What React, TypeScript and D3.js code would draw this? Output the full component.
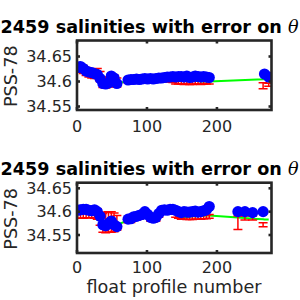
import React, { useEffect, useRef } from "react";
import * as d3 from "d3";

// profile numbers shared by both panels
const profiles = [
  1, 5, 9, 13, 17, 21, 25, 29, 33, 37, 41, 45, 49, 53, 57,
  73, 77, 81, 85, 89, 93, 97, 101, 105, 109, 113, 117, 121, 125, 129,
  133, 137, 141, 145, 149, 153, 157, 161, 165, 169, 173, 177, 181, 185, 189,
  230, 240, 251, 266, 268, 274,
];

// upper panel
const topFloat = [
  34.628, 34.63, 34.626, 34.621, 34.619, 34.618, 34.616, 34.614, 34.606, 34.596, 34.595, 34.597, 34.611, 34.607, 34.596,
  34.603, 34.604, 34.604, 34.605, 34.604, 34.605, 34.606, 34.605, 34.606, 34.605, 34.606, 34.607, 34.607, 34.608, 34.609,
  34.609, 34.61, 34.609, 34.61, 34.61, 34.609, 34.611, 34.608, 34.609, 34.611, 34.61, 34.609, 34.61, 34.609, 34.608,
  NaN, NaN, NaN, NaN, 34.615, 34.609,
];
const topMapped = [
  34.628, 34.627, 34.624, 34.62, 34.617, 34.615, 34.615, 34.616, 34.61, 34.598, 34.597, 34.599, 34.605, 34.603, 34.598,
  34.601, 34.602, 34.602, 34.603, 34.602, 34.603, 34.604, 34.603, 34.604, 34.603, 34.604, 34.604, 34.604, 34.604, 34.604,
  34.603, 34.602, 34.6, 34.6, 34.6, 34.599, 34.6, 34.599, 34.599, 34.6, 34.6, 34.599, 34.6, 34.6, 34.6,
  NaN, NaN, NaN, 34.5914, NaN, 34.5936,
];
const topErr = [
  0.008, 0.008, 0.008, 0.008, 0.008, 0.008, 0.009, 0.01, 0.01, 0.01, 0.01, 0.01, 0.01, 0.01, 0.009,
  0.004, 0.004, 0.004, 0.004, 0.004, 0.004, 0.004, 0.004, 0.004, 0.004, 0.004, 0.004, 0.004, 0.004, 0.004,
  0.004, 0.004, 0.005, 0.005, 0.005, 0.005, 0.005, 0.005, 0.005, 0.005, 0.005, 0.005, 0.005, 0.005, 0.005,
  NaN, NaN, NaN, 0.006, NaN, 0.003,
];
const topCal = [
  34.627, 34.628, 34.624, 34.62, 34.618, 34.616, 34.615, 34.613, 34.604, 34.597, 34.596, 34.598, 34.606, 34.603, 34.595,
  34.602, 34.603, 34.603, 34.603, 34.603, 34.603, 34.604, 34.603, 34.604, 34.603, 34.604, 34.604, 34.604, 34.604, 34.603,
  34.602, 34.601, 34.601, 34.601, 34.601, 34.601, 34.601, 34.601, 34.601, 34.601, 34.601, 34.6, 34.6, 34.6, 34.6,
  NaN, NaN, NaN, 34.6045, 34.605, NaN,
];

// lower panel
const botFloat = [
  34.603, 34.604, 34.605, 34.605, 34.603, 34.602, 34.604, 34.6, 34.59, 34.572, 34.57, 34.575, 34.58, 34.572, 34.568,
  34.584, 34.585, 34.589, 34.59, 34.592, 34.594, 34.6, 34.594, 34.588, 34.586, 34.588, 34.596, 34.603, 34.604, 34.603,
  34.605, 34.605, 34.603, 34.6, 34.598, 34.6, 34.599, 34.599, 34.6, 34.601, 34.599, 34.6, 34.602, 34.604, 34.611,
  34.6, 34.6, 34.598, 34.6, NaN, NaN,
];
const botMapped = [
  34.597, 34.597, 34.597, 34.598, 34.598, 34.598, 34.597, 34.595, 34.585, 34.576, 34.577, 34.578, 34.578, 34.577, 34.576,
  34.58, 34.581, 34.585, 34.586, 34.588, 34.59, 34.596, 34.59, 34.584, 34.582, 34.584, 34.592, 34.599, 34.6, 34.599,
  34.6, 34.599, 34.592, 34.59, 34.588, 34.588, 34.587, 34.587, 34.587, 34.588, 34.588, 34.588, 34.589, 34.589, 34.59,
  34.5764, 34.5865, 34.5865, 34.5722, NaN, NaN,
];
const botErr = [
  0.011, 0.011, 0.011, 0.011, 0.011, 0.011, 0.011, 0.011, 0.014, 0.02, 0.022, 0.022, 0.022, 0.02, 0.016,
  0.004, 0.004, 0.004, 0.004, 0.004, 0.004, 0.004, 0.004, 0.004, 0.004, 0.004, 0.004, 0.004, 0.004, 0.004,
  0.004, 0.004, 0.004, 0.004, 0.004, 0.004, 0.004, 0.004, 0.004, 0.004, 0.004, 0.004, 0.004, 0.004, 0.004,
  0.0145, 0.0043, 0.0043, 0.0043, NaN, NaN,
];
const botCal = [
  34.601, 34.602, 34.603, 34.603, 34.601, 34.6, 34.602, 34.598, 34.588, 34.574, 34.572, 34.576, 34.578, 34.574, 34.571,
  34.582, 34.583, 34.587, 34.588, 34.59, 34.592, 34.597, 34.592, 34.586, 34.584, 34.586, 34.594, 34.6, 34.601, 34.6,
  34.601, 34.6, 34.595, 34.588, 34.586, 34.587, 34.588, 34.589, 34.59, 34.59, 34.59, 34.591, 34.591, 34.592, 34.592,
  34.5875, 34.5865, 34.585, 34.5835, 34.583, 34.583,
];

const xTicks = [0, 100, 200];
const yTicks = [34.55, 34.6, 34.65];
const titleText = "6902459 salinities with error on ";
const yLabel = "PSS-78";
const xLabel = "float profile number";

const panels = [
  { id: "p1", top: 40.5, bottom: 110, yDomain: [34.543, 34.682], titleY: 33, tickY: 131.5, float: topFloat, mapped: topMapped, err: topErr, cal: topCal },
  { id: "p2", top: 182.7, bottom: 253, yDomain: [34.5115, 34.662], titleY: 175, tickY: 273, float: botFloat, mapped: botMapped, err: botErr, cal: botCal },
];

const axisColor = "#262626";
const font = "'DejaVu Sans', sans-serif";

function App() {
  const ref = useRef<SVGSVGElement>(null);

  useEffect(() => {
    const svg = d3.select(ref.current);
    svg.selectAll("*").remove();

    const left = 77;
    const right = 271.5;
    const x = d3.scaleLinear().domain([0, 278]).range([left, right]);

    panels.forEach((p) => {
      const y = d3.scaleLinear().domain(p.yDomain).range([p.bottom, p.top]);
      const g = svg.append("g");

      g.append("clipPath")
        .attr("id", "clip-" + p.id)
        .append("rect")
        .attr("x", left)
        .attr("y", p.top)
        .attr("width", right - left)
        .attr("height", p.bottom - p.top);

      const plot = g.append("g").attr("clip-path", `url(#clip-${p.id})`);

      // green calibrated line
      const calPts = profiles
        .map((n, i) => [n, p.cal[i]] as [number, number])
        .filter((d) => !isNaN(d[1]));
      plot
        .append("path")
        .datum(calPts)
        .attr("fill", "none")
        .attr("stroke", "#00ff00")
        .attr("stroke-width", 2)
        .attr("d", d3.line<[number, number]>().x((d) => x(d[0])).y((d) => y(d[1])));

      // red error bars
      const errPts = profiles
        .map((n, i) => ({ n, m: p.mapped[i], e: p.err[i] }))
        .filter((d) => !isNaN(d.m));
      const eb = plot
        .selectAll(".eb")
        .data(errPts)
        .join("g")
        .attr("class", "eb")
        .attr("stroke", "#ff0000")
        .attr("stroke-width", 1.5);
      eb.append("line")
        .attr("x1", (d) => x(d.n))
        .attr("x2", (d) => x(d.n))
        .attr("y1", (d) => y(d.m - d.e))
        .attr("y2", (d) => y(d.m + d.e));
      eb.append("line")
        .attr("x1", (d) => x(d.n) - 4.5)
        .attr("x2", (d) => x(d.n) + 4.5)
        .attr("y1", (d) => y(d.m - d.e))
        .attr("y2", (d) => y(d.m - d.e));
      eb.append("line")
        .attr("x1", (d) => x(d.n) - 4.5)
        .attr("x2", (d) => x(d.n) + 4.5)
        .attr("y1", (d) => y(d.m + d.e))
        .attr("y2", (d) => y(d.m + d.e));

      // blue float salinities
      const floatPts = profiles
        .map((n, i) => [n, p.float[i]] as [number, number])
        .filter((d) => !isNaN(d[1]));
      plot
        .selectAll(".dot")
        .data(floatPts)
        .join("circle")
        .attr("class", "dot")
        .attr("cx", (d) => x(d[0]))
        .attr("cy", (d) => y(d[1]))
        .attr("r", 5.6)
        .attr("fill", "#0000ff");

      // box + ticks
      g.append("rect")
        .attr("x", left)
        .attr("y", p.top)
        .attr("width", right - left)
        .attr("height", p.bottom - p.top)
        .attr("fill", "none")
        .attr("stroke", axisColor)
        .attr("stroke-width", 2.6);

      xTicks.forEach((t) => {
        g.append("line")
          .attr("x1", x(t)).attr("x2", x(t))
          .attr("y1", p.bottom).attr("y2", p.bottom - 3)
          .attr("stroke", axisColor).attr("stroke-width", 2.6);
        g.append("line")
          .attr("x1", x(t)).attr("x2", x(t))
          .attr("y1", p.top).attr("y2", p.top + 3)
          .attr("stroke", axisColor).attr("stroke-width", 2.6);
        g.append("text")
          .attr("x", x(t))
          .attr("y", p.tickY)
          .attr("text-anchor", "middle")
          .attr("font-family", font)
          .attr("font-size", 16)
          .attr("fill", axisColor)
          .text(t);
      });

      yTicks.forEach((t) => {
        g.append("line")
          .attr("x1", left).attr("x2", left + 3)
          .attr("y1", y(t)).attr("y2", y(t))
          .attr("stroke", axisColor).attr("stroke-width", 2.6);
        g.append("line")
          .attr("x1", right).attr("x2", right - 3)
          .attr("y1", y(t)).attr("y2", y(t))
          .attr("stroke", axisColor).attr("stroke-width", 2.6);
        g.append("text")
          .attr("x", 72)
          .attr("y", y(t) + 5.8)
          .attr("text-anchor", "end")
          .attr("font-family", font)
          .attr("font-size", 16)
          .attr("fill", axisColor)
          .text(String(t));
      });

      g.append("text")
        .attr("transform", `translate(17, ${(p.top + p.bottom) / 2 + 1}) rotate(-90)`)
        .attr("text-anchor", "middle")
        .attr("font-family", font)
        .attr("font-size", 17.6)
        .attr("fill", axisColor)
        .text(yLabel);

      const title = g
        .append("text")
        .attr("x", 298.5)
        .attr("y", p.titleY)
        .attr("text-anchor", "end")
        .attr("font-family", font)
        .attr("font-size", 17.6)
        .attr("font-weight", "bold")
        .attr("fill", "#000");
      title.append("tspan").text(titleText);
      title
        .append("tspan")
        .attr("font-family", "'DejaVu Serif', serif")
        .attr("font-style", "italic")
        .attr("font-weight", "normal")
        .text("θ");
    });

    svg
      .append("text")
      .attr("x", 174)
      .attr("y", 292.5)
      .attr("text-anchor", "middle")
      .attr("font-family", font)
      .attr("font-size", 17.6)
      .attr("fill", axisColor)
      .text(xLabel);
  }, []);

  return (
    <svg
      ref={ref}
      width={300}
      height={300}
      style={{ position: "absolute", left: 0, top: 0, background: "#fff" }}
    />
  );
}

export default App;
